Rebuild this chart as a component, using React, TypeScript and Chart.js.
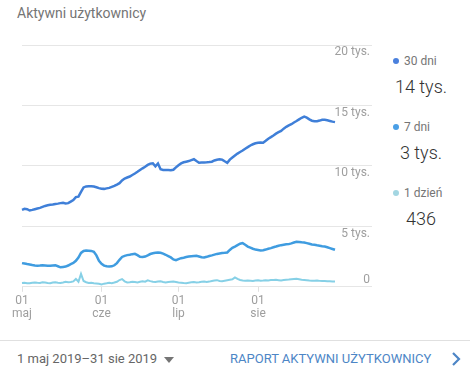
import React, { useEffect, useRef } from "react";
import { Chart, registerables } from "chart.js";

Chart.register(...registerables);

const startDate = "2019-05-01";
const dayCount = 123;

const monthStartIdx = [0, 31, 61, 92];
const monthTickLabels = [
  ["01", "maj"],
  ["01", "cze"],
  ["01", "lip"],
  ["01", "sie"],
];

const yTickValues = [0, 5000, 10000, 15000, 20000];
const yTickLabels = ["0", "5 tys.", "10 tys.", "15 tys.", "20 tys."];

const users30 = [
  6360, 6450, 6420, 6310, 6360, 6420, 6480, 6530, 6610, 6690,
  6740, 6780, 6810, 6850, 6880, 6920, 6950, 6900, 6920, 7050,
  7170, 7420, 7460, 7850, 8220, 8300, 8320, 8310, 8290, 8230,
  8160, 8110, 8100, 8140, 8180, 8260, 8340, 8450, 8570, 8800,
  8950, 9040, 9120, 9250, 9370, 9510, 9660, 9800, 9930, 10080,
  10190, 10220, 9960, 10200, 9720, 9670, 9670, 9660, 9640, 9680,
  9880, 10060, 10210, 10300, 10350, 10400, 10480, 10550, 10400, 10260,
  10280, 10290, 10300, 10320, 10350, 10450, 10510, 10540, 10520, 10380,
  10250, 10520, 10700, 10860, 11020, 11150, 11270, 11420, 11550, 11690,
  11790, 11870, 11920, 11930, 11920, 12080, 12250, 12380, 12520, 12670,
  12790, 12900, 13080, 13230, 13350, 13450, 13590, 13710, 13850, 13980,
  14070, 13990, 13850, 13740, 13700, 13690, 13750, 13820, 13810, 13770,
  13720, 13660, 13620,
];

const users7 = [
  1960, 1920, 1880, 1850, 1800, 1760, 1740, 1760, 1790, 1770,
  1740, 1740, 1770, 1790, 1700, 1610, 1640, 1670, 1760, 1880,
  1970, 2150, 2420, 2800, 2960, 3000, 2990, 2970, 2900, 2600,
  2150, 1900, 1750, 1700, 1680, 1690, 1780, 1960, 2230, 2470,
  2560, 2620, 2650, 2700, 2730, 2620, 2480, 2460, 2500, 2600,
  2710, 2770, 2810, 2835, 2810, 2740, 2650, 2540, 2430, 2260,
  2200, 2290, 2370, 2410, 2460, 2500, 2530, 2550, 2560, 2510,
  2450, 2420, 2480, 2550, 2600, 2660, 2720, 2760, 2790, 2810,
  2840, 3050, 3220, 3330, 3450, 3560, 3610, 3480, 3330, 3240,
  3150, 3080, 3040, 3000, 3030, 3080, 3150, 3200, 3270, 3330,
  3400, 3445, 3480, 3510, 3530, 3590, 3660, 3720, 3710, 3680,
  3660, 3610, 3560, 3500, 3470, 3430, 3400, 3360, 3330, 3270,
  3200, 3130, 3060,
];

const users1 = [
  310, 330, 300, 290, 340, 360, 330, 320, 370, 350,
  310, 300, 350, 380, 340, 320, 360, 410, 380, 400,
  450, 650, 420, 1070, 480, 380, 320, 340, 300, 280,
  250, 200, 260, 290, 330, 300, 350, 420, 560, 640,
  450, 360, 380, 420, 390, 360, 410, 450, 420, 540,
  470, 420, 390, 430, 450, 400, 360, 390, 420, 440,
  400, 360, 340, 310, 300, 340, 370, 390, 360, 380,
  420, 440, 400, 430, 480, 520, 550, 480, 460, 500,
  540, 580, 620, 780, 650, 560, 520, 500, 530, 510,
  490, 520, 540, 500, 520, 550, 530, 560, 570, 580,
  550, 520, 560, 590, 600, 620, 640, 660, 620, 580,
  560, 540, 520, 510, 500, 530, 490, 470, 480, 460,
  450, 440, 436,
];

const legendItems = [
  { name: "30 dni", value: "14 tys.", dot: "#4a80dd" },
  { name: "7 dni", value: "3 tys.", dot: "#4a9fe6" },
  { name: "1 dzień", value: "436", dot: "#a3d6e2" },
];

const lineColors = ["#3f7fd8", "#3f9ce0", "#86d0e6"];

function buildDayLabels(): string[] {
  const out: string[] = [];
  const d0 = new Date(startDate + "T00:00:00Z");
  for (let i = 0; i < dayCount; i++) {
    const d = new Date(d0.getTime() + i * 86400000);
    out.push(d.toISOString().slice(0, 10));
  }
  return out;
}

const FONT = "Roboto, 'Noto Sans', sans-serif";

export default function App() {
  const ref = useRef<HTMLCanvasElement | null>(null);

  useEffect(() => {
    if (!ref.current) return;
    const chart = new Chart(ref.current, {
      type: "line",
      data: {
        labels: buildDayLabels(),
        datasets: [
          { label: "30 dni", data: users30, borderColor: lineColors[0], borderWidth: 2.5, pointRadius: 0, tension: 0, fill: false },
          { label: "7 dni", data: users7, borderColor: lineColors[1], borderWidth: 2.5, pointRadius: 0, tension: 0, fill: false },
          { label: "1 dzień", data: users1, borderColor: lineColors[2], borderWidth: 2, pointRadius: 0, tension: 0, fill: false },
        ],
      },
      options: {
        animation: false,
        responsive: false,
        maintainAspectRatio: false,
        layout: { padding: { top: 15, left: 22, right: 10, bottom: 7 } },
        plugins: { legend: { display: false }, tooltip: { enabled: false } },
        scales: {
          x: {
            grid: { display: true, drawOnChartArea: false, drawTicks: true, tickLength: 5, color: "#e0e0e0" },
            border: { display: false },
            ticks: {
              autoSkip: false,
              maxRotation: 0,
              minRotation: 0,
              padding: 3,
              color: "#9e9e9e",
              font: { family: FONT, size: 12, lineHeight: 1.05 },
              callback: (_v: any, i: number) => {
                const k = monthStartIdx.indexOf(i);
                return k >= 0 ? monthTickLabels[k] : null;
              },
            },
          },
          y: {
            position: "right",
            min: 0,
            max: 20000,
            grid: { color: "#e6e6e6", tickLength: 37, drawTicks: true },
            border: { display: false },
            afterFit: (scale: any) => {
              scale.width = 35;
            },
            ticks: {
              stepSize: 5000,
              crossAlign: "far",
              padding: -36,
              color: "#9e9e9e",
              font: { family: FONT, size: 12 },
              callback: (v: any) => {
                const k = yTickValues.indexOf(Number(v));
                const t = k >= 0 ? yTickLabels[k] : "";
                return Number(v) === 0 ? [t, ""] : ["", t];
              },
            },
          },
        },
      },
    });
    return () => chart.destroy();
  }, []);

  return (
    <div style={{ position: "fixed", left: 0, top: 0, width: 470, height: 378, background: "#fff", fontFamily: FONT, overflow: "hidden" }}>
      <div style={{ position: "absolute", left: 17, top: 5, fontSize: 14, lineHeight: "16px", color: "#757575" }}>
        Aktywni użytkownicy
      </div>
      <canvas ref={ref} width={380} height={300} style={{ position: "absolute", left: 0, top: 30, width: 380, height: 300 }} />
      {legendItems.map((it, i) => (
        <div key={it.name} style={{ position: "absolute", left: 380, top: 54 + i * 66, width: 84 }}>
          <div style={{ position: "relative", height: 14, fontSize: 12, lineHeight: "14px", color: "#757575" }}>
            <span style={{ position: "absolute", left: 13, top: 4, width: 6, height: 6, borderRadius: 3, background: it.dot }} />
            <span style={{ position: "absolute", left: 24, top: 0, whiteSpace: "nowrap" }}>{it.name}</span>
          </div>
          <div style={{ position: "absolute", left: 0, top: 22, width: 82, textAlign: "center", fontSize: 18, fontWeight: 300, lineHeight: "22px", color: "#333" }}>
            {it.value}
          </div>
        </div>
      ))}
      <div style={{ position: "absolute", left: 0, top: 340, width: 470, height: 1, background: "#e0e0e0" }} />
      <div style={{ position: "absolute", left: 17, top: 351, fontSize: 13, lineHeight: "16px", color: "#666", whiteSpace: "nowrap" }}>
        1 maj 2019–31 sie 2019
        <svg width="10" height="6" style={{ marginLeft: 7, verticalAlign: "middle" }}>
          <polygon points="0,0 10,0 5,6" fill="#757575" />
        </svg>
      </div>
      <div style={{ position: "absolute", left: 230, top: 351, fontSize: 13, lineHeight: "16px", color: "#4d86c6", whiteSpace: "nowrap" }}>
        RAPORT AKTYWNI UŻYTKOWNICY
      </div>
      <svg width="10" height="14" style={{ position: "absolute", left: 451, top: 352 }}>
        <polyline points="2,1 8,7 2,13" fill="none" stroke="#4d86c6" strokeWidth="2.2" />
      </svg>
    </div>
  );
}
